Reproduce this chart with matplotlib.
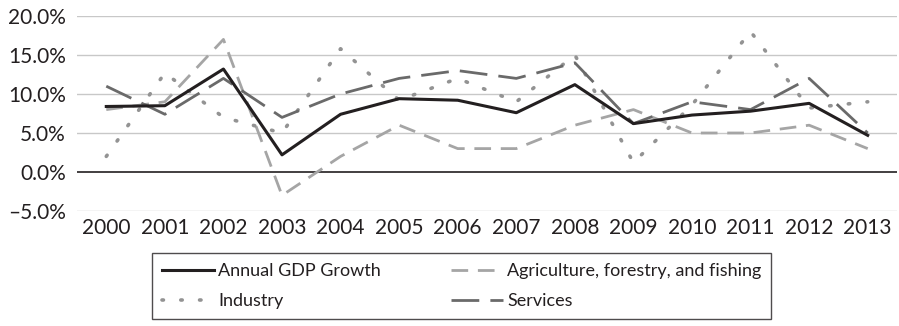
import matplotlib
matplotlib.use("Agg")
import matplotlib.pyplot as plt
from matplotlib.ticker import FuncFormatter

plt.rcParams['font.family'] = ['Lato', 'DejaVu Sans']

years = [str(y) for y in range(2000, 2014)]
gdp = [8.4, 8.5, 13.2, 2.2, 7.4, 9.4, 9.2, 7.6, 11.2, 6.2, 7.3, 7.8, 8.8, 4.7]
agriculture = [8.0, 9.0, 17.0, -3.0, 2.0, 6.0, 3.0, 3.0, 6.0, 8.0, 5.0, 5.0, 6.0, 3.0]
industry = [2.0, 12.7, 7.0, 5.0, 15.8, 9.2, 12.0, 9.0, 15.0, 1.2, 8.6, 18.0, 8.2, 9.0]
services = [11.0, 7.4, 12.0, 7.0, 10.0, 12.0, 13.0, 12.0, 14.0, 6.2, 9.0, 8.0, 12.0, 5.0]
yticks = [-5, 0, 5, 10, 15, 20]

FS = 15
LFS = 13

fig = plt.figure(figsize=(8.99, 3.26), dpi=100)
ax = fig.add_axes([77/899, 1-211/326, (897-77)/899, (211-16)/326])

x = list(range(len(years)))
h_gdp, = ax.plot(x, gdp, color='#231f20', lw=2.2, label='Annual GDP Growth', zorder=5)
h_agr, = ax.plot(x, agriculture, color='#a5a5a5', lw=2.0, ls=(0, (6, 3.5)), label='Agriculture, forestry, and fishing', zorder=3)
h_ind, = ax.plot(x, industry, color='#939393', lw=2.6, ls=(0, (0.4, 4.8)), dash_capstyle='round', label='Industry', zorder=3)
h_srv, = ax.plot(x, services, color='#6a6a6a', lw=2.0, ls=(0, (10, 4)), label='Services', zorder=4)

ax.set_xlim(-0.5, len(years) - 0.5)
ax.set_ylim(-5, 20)
ax.set_yticks(yticks)
ax.yaxis.set_major_formatter(FuncFormatter(lambda v, p: ('\u2013' if v < 0 else '') + f"{abs(v):.1f}%"))
ax.set_xticks(x)
ax.set_xticklabels(years)
for v in yticks:
    if v == 0:
        ax.axhline(v, color='#231f20', lw=1.2, zorder=2)
    else:
        ax.axhline(v, color='#c8c8c8', lw=1.0, zorder=1)
for s in ax.spines.values():
    s.set_visible(False)
ax.tick_params(axis='both', length=0, labelsize=FS, colors='#231f20')
ax.tick_params(axis='x', pad=5)
ax.tick_params(axis='y', pad=8)

leg = fig.legend([h_gdp, h_ind, h_agr, h_srv],
                 [h_gdp.get_label(), h_ind.get_label(), h_agr.get_label(), h_srv.get_label()],
                 ncol=2, loc='upper left', bbox_to_anchor=(152/899, 1 - 253/326),
                 borderaxespad=0,
                 frameon=True, fancybox=False, edgecolor='#231f20', fontsize=LFS,
                 handlelength=2.9, handletextpad=0.2, columnspacing=3.9,
                 labelspacing=0.8, borderpad=0.55)
leg.get_frame().set_linewidth(1.0)
for t in leg.get_texts():
    t.set_color('#231f20')

fig.savefig('out.png', dpi=100)
